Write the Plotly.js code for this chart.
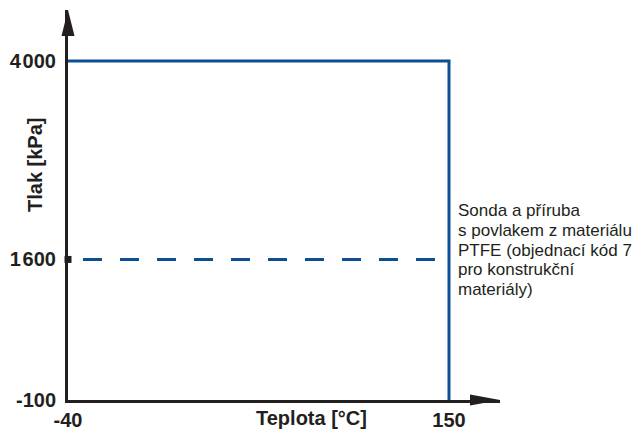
<!DOCTYPE html>
<html>
<head>
<meta charset="utf-8">
<script src="https://cdn.plot.ly/plotly-3.0.1.min.js"></script>
<style>html,body{margin:0;padding:0;background:#fff;}#chart{width:642px;height:430px;}</style>
</head>
<body>
<div id="chart"></div>
<script>
// Data
const limitTemp = [-40, 150, 150];          // °C
const limitPressure = [4000, 4000, -100];   // kPa
const ptfeTemp = [-40, 150];
const ptfePressure = [1600, 1600];
const yTickVals = [-100, 1600, 4000];
const yTickText = ['-100', '1\u200A600', '4\u200A000'];
const xTickVals = [-40, 150];
const xTickText = ['-40', '150'];
const noteLines = ['Sonda a příruba', 's povlakem z materiálu', 'PTFE (objednací kód 7', 'pro konstrukční', 'materiály)'];

const BLUE = '#0d4f94';
const DARK = '#231f20';
const FONT = 'Arial, "Liberation Sans", sans-serif';

let dash = '0px,15px';
for (let i = 0; i < 11; i++) dash += ',19px,18px';

const traces = [
  {x: limitTemp, y: limitPressure, mode: 'lines', line: {color: BLUE, width: 3}, hoverinfo: 'skip', cliponaxis: false},
  {x: ptfeTemp, y: ptfePressure, mode: 'lines', line: {color: BLUE, width: 3, dash: dash}, hoverinfo: 'skip'},
  {x: [ptfeTemp[0]], y: [ptfePressure[0]], mode: 'markers', marker: {symbol: 'square', size: 7, color: DARK}, cliponaxis: false, hoverinfo: 'skip'}
];

const W = 432, H = 390;
const annotations = [
  {text: 'Tlak [kPa]', xref: 'paper', yref: 'paper', x: -33/W, y: (400-165)/H, textangle: -90, showarrow: false,
   xanchor: 'center', yanchor: 'middle',
   font: {family: FONT, size: 20, color: DARK, weight: 'bold'}},
  {text: 'Teplota [°C]', xref: 'paper', yref: 'paper', x: (311-68)/W, y: -18/H, showarrow: false, yanchor: 'middle',
   font: {family: FONT, size: 20, color: DARK, weight: 'bold'}}
];
noteLines.forEach((t, i) => {
  annotations.push({text: t, xref: 'paper', yref: 'paper', x: (456-68)/W, y: (400-(211 + i*19.5))/H,
    xanchor: 'left', yanchor: 'middle', showarrow: false, font: {family: FONT, size: 17, color: DARK}});
});

const shapes = [
  {type: 'path', xref: 'paper', yref: 'paper', fillcolor: DARK, line: {width: 0},
   path: `M ${-6.5/W} ${1-26/H} L 0 1 L ${6.5/W} ${1-26/H} Z`},
  {type: 'path', xref: 'paper', yref: 'paper', fillcolor: DARK, line: {width: 0},
   path: `M ${1-30/W} ${5.5/H} L 1 0 L ${1-30/W} ${-5.5/H} Z`}
];

const layout = {
  width: 642, height: 430,
  margin: {l: 68, r: 142, t: 10, b: 30},
  paper_bgcolor: '#fff', plot_bgcolor: '#fff',
  showlegend: false,
  xaxis: {range: [-40, -40 + 432/(381/190)], tickvals: xTickVals, ticktext: xTickText, showgrid: false, zeroline: false,
          showline: true, linecolor: DARK, linewidth: 3, ticks: '', ticklabelstandoff: 0,
          tickfont: {family: FONT, size: 20, color: DARK, weight: 'bold'}},
  yaxis: {range: [-100, -100 + 390/(339/4100)], tickvals: yTickVals, ticktext: yTickText, showgrid: false, zeroline: false,
          showline: true, linecolor: DARK, linewidth: 3, ticks: '', ticklabelstandoff: 5,
          tickfont: {family: FONT, size: 20, color: DARK, weight: 'bold'}},
  annotations: annotations,
  shapes: shapes
};

Plotly.newPlot('chart', traces, layout, {staticPlot: true, displayModeBar: false});
</script>
</body>
</html>
